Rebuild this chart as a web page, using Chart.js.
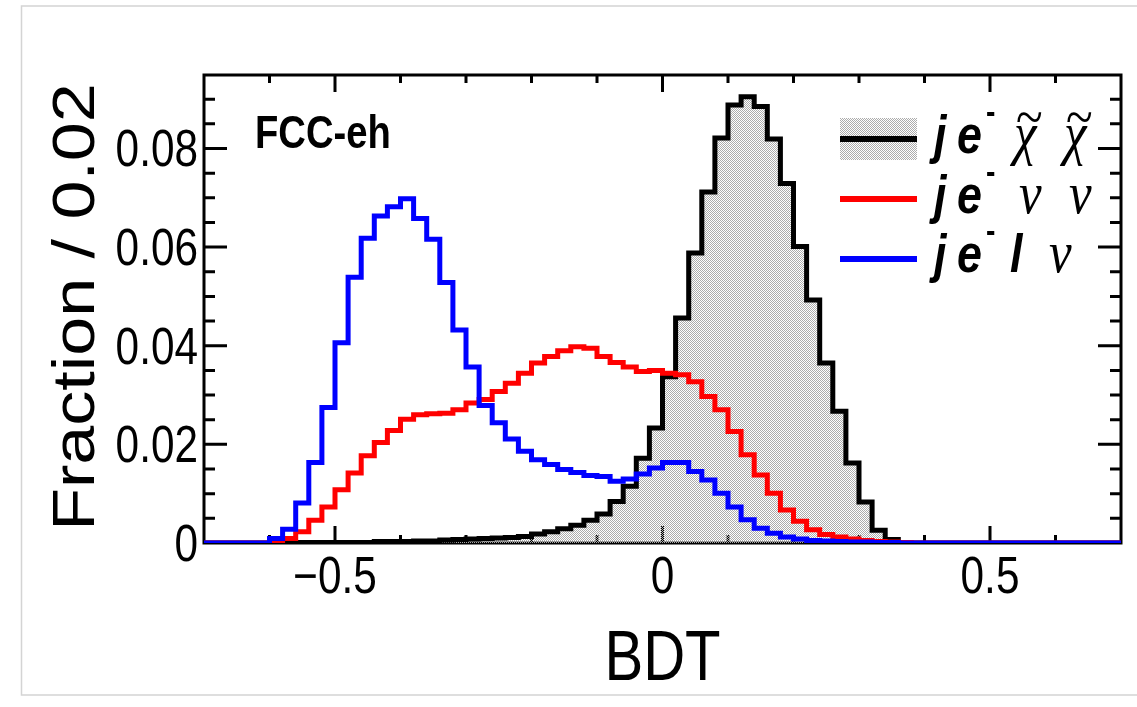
<!DOCTYPE html>
<html>
<head>
<meta charset="utf-8">
<script src="https://cdn.jsdelivr.net/npm/chart.js@4.4.1/dist/chart.umd.min.js"></script>
<style>
  html, body { margin: 0; padding: 0; background: #ffffff; }
  #wrap { width: 1137px; height: 707px; position: relative; }
</style>
</head>
<body>
<div id="wrap"><canvas id="myChart"></canvas></div>
<script>
// binning of the BDT output: 70 bins of 0.02 from -0.7 to 0.7
const binLow = -0.7;
const binWidth = 0.02;
const nBins = 70;
const bdtEdges = Array.from({ length: nBins + 1 }, (_, i) => +(binLow + i * binWidth).toFixed(2));

// fraction per bin (bin 0 = [-0.70,-0.68])
const signalValues = [
    0, 0, 0, 0, 0,
    0, 0.0001, 0.0001, 0.0001, 0.0001,
    0.0001, 0.0001, 0.0001, 0.0003, 0.0003,
    0.0003, 0.0004, 0.0004, 0.0006, 0.0007,
    0.0008, 0.0009, 0.001, 0.0011, 0.0013,
    0.0018, 0.0023, 0.0029, 0.0036, 0.0046,
    0.0059, 0.0084, 0.0115, 0.0172, 0.0233,
    0.0337, 0.0456, 0.0588, 0.0712, 0.0821,
    0.0888, 0.0905, 0.0885, 0.0819, 0.0729,
    0.0601, 0.0493, 0.0365, 0.0267, 0.0162,
    0.0083, 0.0026, 0.0007, 0, 0,
    0, 0, 0, 0, 0,
    0, 0, 0, 0, 0,
    0, 0, 0, 0, 0
];
const nunuValues = [
    0, 0, 0, 0, 0,
    0.0001, 0.0009, 0.0023, 0.0046, 0.0073,
    0.0108, 0.0142, 0.0177, 0.0204, 0.0228,
    0.0251, 0.026, 0.0262, 0.0263, 0.027,
    0.0284, 0.0291, 0.0307, 0.0324, 0.0344,
    0.0365, 0.0378, 0.039, 0.0398, 0.0395,
    0.0378, 0.0366, 0.0357, 0.0348, 0.035,
    0.0344, 0.0341, 0.0327, 0.0297, 0.027,
    0.0226, 0.0179, 0.0138, 0.0101, 0.0067,
    0.0044, 0.0027, 0.0017, 0.0012, 0.0008,
    0.0005, 0.0003, 0.0002, 0.0001, 0,
    0, 0, 0, 0, 0,
    0, 0, 0, 0, 0,
    0, 0, 0, 0, 0
];
const lnuValues = [
    0, 0, 0, 0, 0,
    0.0009, 0.0028, 0.0081, 0.0163, 0.0275,
    0.0406, 0.0539, 0.0618, 0.0663, 0.0682,
    0.0698, 0.0658, 0.0616, 0.0528, 0.0432,
    0.0357, 0.0279, 0.0244, 0.0211, 0.0186,
    0.0169, 0.0159, 0.0149, 0.0143, 0.0137,
    0.0135, 0.0125, 0.013, 0.014, 0.0152,
    0.0163, 0.0163, 0.0145, 0.0128, 0.0101,
    0.0073, 0.0047, 0.003, 0.002, 0.0012,
    0.0008, 0.0005, 0.0004, 0.0003, 0.0002,
    0.0002, 0.0001, 0.0001, 0, 0,
    0, 0, 0, 0, 0,
    0, 0, 0, 0, 0,
    0, 0, 0, 0, 0
];

const seriesLabels = ['je\u207B \u03C7\u0303 \u03C7\u0303', 'je\u207B \u03BD \u03BD', 'je\u207B l \u03BD'];
// the particle part of each legend entry: [text, kind, x]
const legendPieces = [
    [['\u03C7', 'greekTilde', 1014], ['\u03C7', 'greekTilde', 1064]],
    [['\u03BD', 'greek', 1019], ['\u03BD', 'greek', 1069]],
    [['l', 'roman', 1010], ['\u03BD', 'greek', 1049]]
];
const yTickValues = [0, 0.02, 0.04, 0.06, 0.08];
const xTickValues = [-0.5, 0, 0.5];
const xTitle = 'BDT';
const yTitle = 'Fraction / 0.02';

const sans = '"Liberation Sans", Arial, Helvetica, sans-serif';
const serif = '"Liberation Serif", "Times New Roman", serif';
const squeeze = 0.83; // the reference text is horizontally condensed

// turn bin contents into step points (left edge of each bin, plus the last right edge)
function histPoints(values) {
    const pts = values.map((v, i) => ({ x: bdtEdges[i], y: v }));
    pts.push({ x: bdtEdges[nBins], y: values[nBins - 1] });
    return pts;
}

function fmtX(v) {
    return v === 0 ? '0' : (v < 0 ? '\u2212' : '') + Math.abs(v);
}
function fmtY(v) {
    return v === 0 ? '0' : v.toFixed(2);
}

// text with a horizontal squeeze, optionally rotated (for the y title)
function squeezedText(ctx, text, x, y, font, align, baseline, sx, rotated) {
    ctx.save();
    ctx.translate(x, y);
    ctx.scale(sx, 1);
    if (rotated) ctx.rotate(-Math.PI / 2);
    ctx.font = font;
    ctx.textAlign = align;
    ctx.textBaseline = baseline;
    ctx.fillText(text, 0, 0);
    ctx.restore();
}

const canvas = document.getElementById('myChart');
const ctx0 = canvas.getContext('2d');

// ROOT-like stipple fill for the signal
function makeStipple() {
    const c = document.createElement('canvas');
    c.width = 2; c.height = 2;
    const g = c.getContext('2d');
    g.fillStyle = '#acacac';
    g.fillRect(0, 0, 1, 1);
    g.fillRect(1, 1, 1, 1);
    return ctx0.createPattern(c, 'repeat');
}
const stipple = makeStipple();

const rootFrame = {
    id: 'rootFrame',
    beforeDraw(chart) {
        // thin grey border of the page
        const { ctx, width } = chart;
        ctx.save();
        ctx.strokeStyle = '#d4d4d4';
        ctx.lineWidth = 1.5;
        ctx.beginPath();
        ctx.moveTo(width, 6);
        ctx.lineTo(21.5, 6);
        ctx.lineTo(21.5, 695);
        ctx.lineTo(width, 695);
        ctx.stroke();
        ctx.restore();
    },
    beforeDatasetsDraw(chart) {
        // frame with inward ticks on all four sides, under the histograms
        const { ctx, chartArea: a, scales: { x, y } } = chart;
        ctx.save();
        ctx.strokeStyle = '#000';
        ctx.lineWidth = 3;
        ctx.strokeRect(a.left, a.top, a.right - a.left, a.bottom - a.top);
        ctx.beginPath();
        for (let k = 1; k * 0.005 < y.max; k++) {
            const py = y.getPixelForValue(k * 0.005);
            const len = k % 4 === 0 ? 23 : 11;
            ctx.moveTo(a.left, py); ctx.lineTo(a.left + len, py);
            ctx.moveTo(a.right, py); ctx.lineTo(a.right - len, py);
        }
        for (let k = -6; k <= 6; k++) {
            const px = x.getPixelForValue(k / 10);
            const len = k % 5 === 0 ? 17 : 8;
            ctx.moveTo(px, a.bottom); ctx.lineTo(px, a.bottom - len);
            ctx.moveTo(px, a.top); ctx.lineTo(px, a.top + len);
        }
        ctx.stroke();
        ctx.restore();
    },
    afterDraw(chart) {
        const { ctx, chartArea: a, scales: { x, y } } = chart;
        ctx.save();
        ctx.fillStyle = '#000';

        // tick labels and axis titles
        x.ticks.forEach(t => {
            squeezedText(ctx, fmtX(t.value), x.getPixelForValue(t.value), a.bottom + 50,
                '51px ' + sans, 'center', 'alphabetic', squeeze);
        });
        y.ticks.forEach(t => {
            squeezedText(ctx, fmtY(t.value), a.left - 6, y.getPixelForValue(t.value) + 18,
                '51px ' + sans, 'right', 'alphabetic', squeeze);
        });
        squeezedText(ctx, xTitle, (a.left + a.right) / 2, 680, '70px ' + sans, 'center', 'alphabetic', squeeze);
        squeezedText(ctx, yTitle, 94, (a.top + a.bottom) / 2 - 2, '70px ' + sans, 'center', 'alphabetic', 0.85, true);

        squeezedText(ctx, 'FCC-eh', 255, 148, 'bold 46px ' + sans, 'left', 'alphabetic', squeeze);

        // legend
        chart.data.datasets.forEach((ds, r) => {
            const lineY = 139 + 60 * r;
            const base = 153 + 59.5 * r;
            if (ds.fill) {
                ctx.fillStyle = ds.backgroundColor;
                ctx.fillRect(840, 118, 77, 42);
            }
            ctx.strokeStyle = ds.borderColor;
            ctx.lineWidth = 6;
            ctx.beginPath();
            ctx.moveTo(840, lineY);
            ctx.lineTo(917, lineY);
            ctx.stroke();

            ctx.fillStyle = '#000';
            squeezedText(ctx, 'j', 934, base, 'bold italic 54px ' + sans, 'left', 'alphabetic', squeeze);
            squeezedText(ctx, 'e', 957, base, 'bold italic 54px ' + sans, 'left', 'alphabetic', squeeze);
            squeezedText(ctx, '-', 986, base - 30, 'bold 34px ' + sans, 'left', 'alphabetic', squeeze);

            legendPieces[r].forEach(([txt, kind, px]) => {
                if (kind === 'roman') {
                    squeezedText(ctx, txt, px, base, 'bold italic 54px ' + sans, 'left', 'alphabetic', squeeze);
                    return;
                }
                squeezedText(ctx, txt, px, base, 'italic 60px ' + serif, 'left', 'alphabetic', 0.85);
                if (kind === 'greekTilde') {
                    ctx.font = 'italic 60px ' + serif;
                    const w = ctx.measureText(txt).width * 0.85;
                    squeezedText(ctx, '~', px + w / 2 + 4, base - 17, '58px ' + serif, 'center', 'alphabetic', 0.85);
                }
            });
        });
        ctx.restore();
    }
};

const data = {
    datasets: [
        {
            label: seriesLabels[0],
            data: histPoints(signalValues),
            borderColor: '#000000',
            backgroundColor: stipple,
            fill: 'origin',
            order: 3
        },
        {
            label: seriesLabels[1],
            data: histPoints(nunuValues),
            borderColor: '#ff0000',
            backgroundColor: '#ff0000',
            fill: false,
            order: 2
        },
        {
            label: seriesLabels[2],
            data: histPoints(lnuValues),
            borderColor: '#0000ff',
            backgroundColor: '#0000ff',
            fill: false,
            order: 1
        }
    ]
};

const config = {
    type: 'line',
    data,
    options: {
        responsive: true,
        maintainAspectRatio: false,
        animation: false,
        datasets: {
            line: {
                stepped: true,
                borderWidth: 5,
                pointRadius: 0,
                tension: 0
            }
        },
        layout: {
            padding: { left: 0, right: 16, top: 75, bottom: 0 }
        },
        scales: {
            x: {
                type: 'linear',
                min: -0.7,
                max: 0.7,
                bounds: 'data',
                afterFit(scale) { scale.height = 164; },
                afterBuildTicks(scale) { scale.ticks = xTickValues.map(v => ({ value: v })); },
                grid: { display: false },
                border: { display: false },
                ticks: { display: false }
            },
            y: {
                type: 'linear',
                min: 0,
                max: 0.0949,
                bounds: 'data',
                afterFit(scale) { scale.width = 204; },
                afterBuildTicks(scale) { scale.ticks = yTickValues.map(v => ({ value: v })); },
                grid: { display: false },
                border: { display: false },
                ticks: { display: false }
            }
        },
        plugins: {
            legend: { display: false },
            tooltip: { enabled: false }
        }
    },
    plugins: [rootFrame]
};

window.myChart = new Chart(canvas, config);
</script>
</body>
</html>
